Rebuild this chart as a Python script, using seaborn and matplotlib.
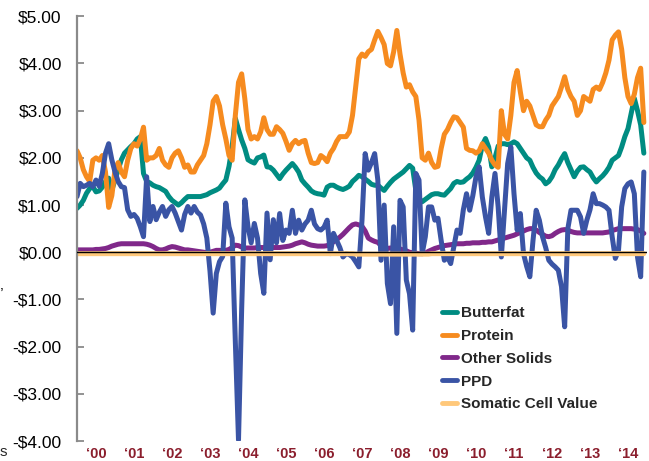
import numpy as np
import pandas as pd
import matplotlib
matplotlib.use("Agg")
import matplotlib.pyplot as plt
import seaborn as sns

# ---------------- data (monthly, Jan 2000 - Dec 2014) ----------------
months = pd.date_range("2000-01-01", periods=180, freq="MS")

butterfat = [
    0.93, 1.0, 1.1, 1.25, 1.35, 1.39, 1.28, 1.3, 1.38, 1.5, 1.57, 1.32,
    1.53, 1.75, 1.96, 2.1, 2.17, 2.24, 2.3, 2.4, 2.45, 1.67, 1.5, 1.47,
    1.42, 1.39, 1.37, 1.33, 1.29, 1.18, 1.1, 1.05, 1.0, 1.05, 1.12, 1.18,
    1.18, 1.18, 1.18, 1.18, 1.2, 1.22, 1.26, 1.29, 1.32, 1.36, 1.45, 1.53,
    1.82, 2.24, 2.84, 2.6, 2.38, 2.2, 1.96, 1.92, 1.89, 2.0, 2.02, 2.06,
    1.81, 1.8, 1.74, 1.65, 1.56, 1.66, 1.74, 1.81, 1.88, 1.8, 1.7, 1.53,
    1.45, 1.38, 1.3, 1.26, 1.24, 1.23, 1.21, 1.38, 1.42, 1.42, 1.38, 1.35,
    1.33, 1.36, 1.4, 1.5, 1.56, 1.63, 1.6, 1.55, 1.5, 1.44, 1.42, 1.42,
    1.36, 1.31, 1.4, 1.48, 1.55, 1.6, 1.65, 1.7, 1.77, 1.84, 1.78, 1.31,
    1.14, 1.07, 1.12, 1.17, 1.22, 1.24, 1.24, 1.22, 1.21, 1.28, 1.35, 1.46,
    1.5, 1.48, 1.49, 1.55, 1.6, 1.68, 1.8, 1.95, 2.27, 2.41, 2.23, 1.81,
    2.0, 2.25, 2.3, 2.3, 2.28, 2.3, 2.34, 2.3, 2.2, 2.1, 2.0, 1.95,
    1.8, 1.68, 1.6, 1.55, 1.45, 1.5, 1.6, 1.75, 1.85, 1.98, 2.09, 1.9,
    1.75, 1.6, 1.72, 1.8, 1.81, 1.75, 1.7, 1.58, 1.49, 1.56, 1.62, 1.7,
    1.8, 1.95, 2.0, 2.05, 2.23, 2.45, 2.62, 2.94, 3.26, 3.0, 2.7, 2.1,
]

protein = [
    2.15, 2.0, 1.75, 1.6, 1.5, 1.95, 2.0, 1.95, 2.05, 1.7, 0.95, 1.2,
    1.75, 1.9, 1.7, 1.6, 1.95, 2.2, 2.3, 2.25, 2.4, 2.65, 1.95, 2.0,
    2.0, 2.05, 2.2, 1.95, 1.85, 1.8, 2.0, 2.1, 2.15, 2.0, 1.8, 1.85,
    1.7, 1.7, 1.85, 1.95, 2.05, 2.3, 2.7, 3.2, 3.3, 3.1, 2.7, 2.4,
    2.05, 1.95, 2.9, 3.6, 3.78, 3.25, 2.6, 2.4, 2.45, 2.4, 2.55, 2.85,
    2.6, 2.5, 2.5, 2.66, 2.6, 2.52, 2.35, 2.16, 2.3, 2.37, 2.3, 2.35,
    2.37, 2.1, 1.9, 1.88, 1.9, 2.05, 2.0, 1.92, 2.1, 2.2, 2.35, 2.45,
    2.45, 2.45, 2.55, 2.9, 3.5, 4.1, 4.2, 4.15, 4.25, 4.3, 4.5, 4.68,
    4.55, 4.4, 4.0, 3.95, 4.25, 4.7, 4.2, 3.8, 3.5, 3.55, 3.4, 3.3,
    2.8, 2.0, 1.95, 2.1, 1.9, 1.8, 1.82, 2.2, 2.5, 2.6, 2.75, 2.87,
    2.85, 2.75, 2.65, 2.2, 2.16, 2.15, 2.1, 2.15, 2.3, 2.2, 2.1, 1.95,
    1.85, 1.8, 3.0, 2.5, 2.4, 2.9, 3.6, 3.85, 3.4, 3.0, 3.2, 3.1,
    2.9, 2.7, 2.66, 2.66, 2.8, 2.9, 3.1, 3.2, 3.3, 3.5, 3.72, 3.45,
    3.3, 3.2, 2.9, 3.0, 3.3, 3.25, 3.2, 3.45, 3.5, 3.45, 3.6, 3.8,
    4.07, 4.5, 4.6, 4.67, 4.3, 3.7, 3.3, 3.15, 3.35, 3.7, 3.9, 2.75,
]

other_solids = [
    0.05, 0.05, 0.05, 0.05, 0.05, 0.05, 0.06, 0.06, 0.07, 0.08, 0.1, 0.13,
    0.15, 0.17, 0.18, 0.18, 0.18, 0.18, 0.18, 0.18, 0.18, 0.18, 0.17, 0.15,
    0.12, 0.08, 0.05, 0.05, 0.07, 0.1, 0.12, 0.11, 0.09, 0.07, 0.05, 0.05,
    0.04, 0.03, 0.02, 0.01, 0.0, -0.01, 0.0, 0.02, 0.04, 0.04, 0.03, 0.04,
    0.06, 0.1, 0.15, 0.14, 0.11, 0.09, 0.09, 0.09, 0.09, 0.1, 0.1, 0.1,
    0.1, 0.1, 0.1, 0.1, 0.1, 0.11, 0.12, 0.13, 0.15, 0.18, 0.2, 0.22,
    0.2, 0.17, 0.15, 0.14, 0.13, 0.13, 0.13, 0.14, 0.18, 0.22, 0.27, 0.32,
    0.38, 0.45, 0.52, 0.58, 0.6, 0.58, 0.55, 0.45, 0.3, 0.26, 0.23, 0.21,
    0.14, 0.09, 0.08, 0.09, 0.08, 0.08, 0.07, 0.05, 0.03, 0.0, -0.01, -0.02,
    -0.03, -0.03, -0.02, 0.02, 0.05, 0.08, 0.1, 0.12, 0.14, 0.15, 0.16, 0.17,
    0.18, 0.18, 0.18, 0.19, 0.19, 0.2, 0.2, 0.2, 0.21, 0.21, 0.22, 0.22,
    0.24, 0.26, 0.28, 0.3, 0.32, 0.34, 0.36, 0.39, 0.42, 0.45, 0.48, 0.5,
    0.5, 0.47, 0.42, 0.38, 0.34, 0.33, 0.35, 0.4, 0.44, 0.47, 0.48, 0.47,
    0.44, 0.42, 0.41, 0.41, 0.41, 0.41, 0.41, 0.41, 0.41, 0.41, 0.41, 0.42,
    0.43, 0.46, 0.48, 0.5, 0.5, 0.5, 0.5, 0.5, 0.49, 0.48, 0.45, 0.4,
]

ppd = [
    1.18, 1.46, 1.39, 1.42, 1.46, 1.39, 1.53, 1.4, 1.67, 2.1, 2.3, 1.96,
    1.7, 1.5, 1.39, 1.37, 0.9, 0.76, 0.8, 0.72, 0.54, 0.33, 1.6, 0.65,
    0.97, 0.69, 0.85, 0.97, 0.76, 0.9, 0.97, 0.83, 0.65, 0.47, 0.8, 0.97,
    0.83, 0.97, 0.85, 0.79, 0.6, 0.3, -0.4, -1.29, -0.45, -0.2, -0.09, 1.04,
    0.54, 0.3, -1.9, -3.98, -1.2, 1.11, 0.54, 0.2, 0.61, 0.3, -0.45, -0.87,
    0.83, -0.16, 0.69, 0.2, 0.82, 0.25, 0.47, 0.4, 0.89, 0.4, 0.68, 0.47,
    0.6, 0.68, 0.89, 0.6, 0.5, 0.47, 0.53, 0.68, -0.03, 0.4, 0.25, 0.1,
    -0.1, -0.03, -0.05, -0.1, -0.2, -0.31, 0.68, 2.09, 1.74, 1.9, 2.09, 1.53,
    -0.17, 1.0, -0.66, -1.09, 0.54, -1.72, 1.1, 0.96, -0.59, -0.88, -1.65, 1.67,
    1.53, -0.03, 0.33, 0.96, 0.96, 0.68, 0.72, 0.25, -0.17, -0.1, -0.24, 0.11,
    0.47, 0.4, 0.9, 1.24, 0.89, 1.2, 1.6, 1.81, 1.17, 0.75, 0.4, 1.17,
    1.67, 0.96, -0.1, 0.89, 1.88, 2.23, 1.24, 0.47, 0.82, -0.03, -0.3, -0.52,
    0.25, 0.89, 0.68, 0.33, 0.1, -0.17, -0.25, -0.31, -0.38, -0.73, -1.58, 0.5,
    0.89, 0.89, 0.89, 0.75, 0.4, 0.68, 0.9, 1.24, 1.03, 1.03, 1.0, 0.96,
    0.89, 0.33, -0.13, 0.04, 0.96, 1.35, 1.45, 1.49, 1.24, -0.1, -0.52, 1.7,
]

somatic = [
    -0.03, -0.03, -0.03, -0.03, -0.03, -0.03, -0.03, -0.03, -0.03, -0.03, -0.03, -0.03,
    -0.03, -0.03, -0.03, -0.03, -0.03, -0.03, -0.03, -0.03, -0.03, -0.03, -0.03, -0.03,
    -0.03, -0.03, -0.03, -0.03, -0.03, -0.03, -0.03, -0.03, -0.03, -0.03, -0.03, -0.03,
    -0.03, -0.03, -0.03, -0.03, -0.03, -0.03, -0.03, -0.03, -0.03, -0.03, -0.03, -0.03,
    -0.03, -0.03, -0.03, -0.03, -0.03, -0.03, -0.03, -0.03, -0.03, -0.03, -0.03, -0.03,
    -0.03, -0.03, -0.03, -0.03, -0.03, -0.03, -0.03, -0.03, -0.03, -0.03, -0.03, -0.03,
    -0.03, -0.03, -0.03, -0.03, -0.03, -0.03, -0.03, -0.03, -0.03, -0.03, -0.03, -0.03,
    -0.03, -0.03, -0.03, -0.03, -0.04, -0.04, -0.04, -0.04, -0.04, -0.04, -0.04, -0.04,
    -0.04, -0.04, -0.04, -0.04, -0.04, -0.04, -0.04, -0.04, -0.04, -0.04, -0.04, -0.04,
    -0.04, -0.04, -0.04, -0.04, -0.03, -0.03, -0.03, -0.03, -0.03, -0.03, -0.03, -0.03,
    -0.03, -0.03, -0.03, -0.03, -0.03, -0.03, -0.03, -0.03, -0.03, -0.03, -0.03, -0.03,
    -0.03, -0.03, -0.03, -0.03, -0.03, -0.03, -0.03, -0.03, -0.03, -0.03, -0.03, -0.03,
    -0.03, -0.03, -0.03, -0.03, -0.03, -0.03, -0.03, -0.03, -0.03, -0.03, -0.03, -0.03,
    -0.03, -0.03, -0.03, -0.03, -0.03, -0.03, -0.03, -0.03, -0.03, -0.03, -0.03, -0.03,
    -0.03, -0.03, -0.03, -0.03, -0.03, -0.03, -0.03, -0.03, -0.03, -0.03, -0.03, -0.03,
]

series_names = ["Butterfat", "Protein", "Other Solids", "PPD", "Somatic Cell Value"]
series_colors = ["#008C82", "#F68B1F", "#80288A", "#3A54A5", "#FFC87A"]
years = list(range(2000, 2015))
year_labels = ["\u2018%02d" % (y % 100) for y in years]
y_ticks = [5, 4, 3, 2, 1, 0, -1, -2, -3, -4]

# ---------------- build frame ----------------
t = months.year + (months.month - 1) / 12.0
df = pd.DataFrame({
    "t": t,
    "Butterfat": butterfat,
    "Protein": protein,
    "Other Solids": other_solids,
    "PPD": ppd,
    "Somatic Cell Value": somatic,
}).melt(id_vars="t", var_name="series", value_name="value")

sns.set_theme(style="white")
plt.rcParams["font.family"] = ["Liberation Sans", "DejaVu Sans"]

W, H = 649, 461
fig = plt.figure(figsize=(W / 100, H / 100), dpi=100)
ax = fig.add_axes([77 / W, 1 - 441 / H, 570 / W, (441 - 16.3) / H])

sns.lineplot(data=df, x="t", y="value", hue="series", hue_order=series_names,
             palette=dict(zip(series_names, series_colors)), linewidth=3.6,
             estimator=None, sort=False, ax=ax, legend=True)

ax.axhline(0, color="black", lw=1.0, zorder=6)

ax.set_xlim(2000, 2015)
ax.set_ylim(-4, 5)
ax.set_xlabel("")
ax.set_ylabel("")

for s in ["top", "right", "bottom"]:
    ax.spines[s].set_visible(False)
ax.spines["left"].set_color("#8a8a8a")
ax.spines["left"].set_linewidth(1.6)

ax.set_yticks(y_ticks)
ax.set_yticklabels([("-$%.2f" % abs(v)) if v < 0 else ("$%.2f" % v) for v in y_ticks])
ax.tick_params(axis="y", direction="in", length=5, width=1.3, color="#8a8a8a",
               labelsize=12.5, labelcolor="black", pad=11, left=True)

ax.set_xticks([y + 0.5 for y in years])
ax.set_xticklabels(year_labels)
ax.tick_params(axis="x", length=0, pad=4, labelsize=10.5, labelcolor="#8B1E2D")
for lab in ax.get_xticklabels():
    lab.set_fontweight("bold")

handles, labels = ax.get_legend_handles_labels()
leg = ax.legend(handles, labels, loc="upper left",
                bbox_to_anchor=(442 / W, 1 - 306 / H), bbox_transform=fig.transFigure,
                frameon=False, prop={"weight": "bold", "size": 11},
                handlelength=1.0, handletextpad=0.25, labelspacing=0.58,
                borderpad=0, borderaxespad=0)
for h in leg.get_lines():
    h.set_linewidth(3.5)

# fragments of text at the left edge
fig.text(0.0, 1 - 295 / H, "\u2019", fontsize=12.5, va="center", ha="left")
fig.text(0.0, 1 - 452 / H, "s", fontsize=11, va="center", ha="left")

fig.savefig("out.png", dpi=100)
